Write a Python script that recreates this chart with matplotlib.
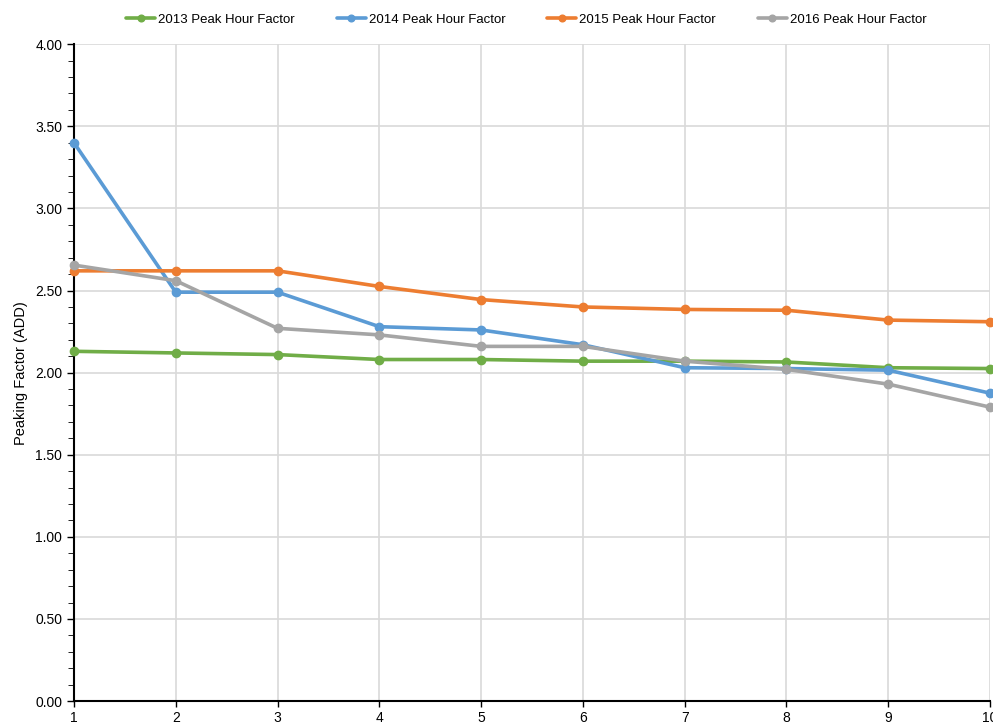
import numpy as np
import matplotlib.pyplot as plt
from matplotlib.ticker import MultipleLocator, FormatStrFormatter

plt.rcParams['font.family'] = ['Liberation Sans', 'DejaVu Sans']

hours = [1, 2, 3, 4, 5, 6, 7, 8, 9, 10]
phf_2013 = [2.13, 2.12, 2.11, 2.08, 2.08, 2.07, 2.07, 2.065, 2.03, 2.025]
phf_2014 = [3.40, 2.49, 2.49, 2.28, 2.26, 2.17, 2.03, 2.025, 2.015, 1.875]
phf_2015 = [2.62, 2.62, 2.62, 2.525, 2.445, 2.40, 2.385, 2.38, 2.32, 2.31]
phf_2016 = [2.655, 2.56, 2.27, 2.23, 2.16, 2.16, 2.07, 2.02, 1.93, 1.79]

series = [
    ('2013 Peak Hour Factor', phf_2013, '#70AD47'),
    ('2014 Peak Hour Factor', phf_2014, '#5B9BD5'),
    ('2015 Peak Hour Factor', phf_2015, '#ED7D31'),
    ('2016 Peak Hour Factor', phf_2016, '#A5A5A5'),
]

fig = plt.figure(figsize=(9.93, 7.25), dpi=100)
ax = fig.add_axes([0.0745, 0.033, 0.9225, 0.906])

for label, vals, col in series:
    ax.plot(hours, vals, color=col, lw=2.6, marker='o', ms=6,
            label=label, zorder=3, solid_capstyle='round', clip_on=False)

ax.set_xlim(1, 10)
ax.set_ylim(0, 4)
ax.set_xticks(hours)
ax.yaxis.set_major_locator(MultipleLocator(0.5))
ax.yaxis.set_minor_locator(MultipleLocator(0.1))
ax.yaxis.set_major_formatter(FormatStrFormatter('%.2f'))
ax.tick_params(axis='both', labelsize=10, direction='out', color='black', width=1)
ax.tick_params(axis='y', which='major', length=5)
ax.tick_params(axis='y', which='minor', length=4)
ax.tick_params(axis='x', length=4, pad=3)

ax.grid(True, which='major', color='#d9d9d9', lw=1.2, zorder=0)
ax.set_axisbelow(True)
for s in ['top', 'right']:
    ax.spines[s].set_visible(False)
ax.spines['left'].set_linewidth(1.5)
ax.spines['bottom'].set_linewidth(1.5)

ax.set_ylabel('Peaking Factor (ADD)', fontsize=10.5, labelpad=5)

fig.legend(loc='upper center', bbox_to_anchor=(0.53, 0.998), ncol=4,
           frameon=False, fontsize=9.5, handlelength=2.2, handletextpad=0.2,
           columnspacing=3.2, markerscale=0.8)

fig.savefig('out.png', dpi=100)
